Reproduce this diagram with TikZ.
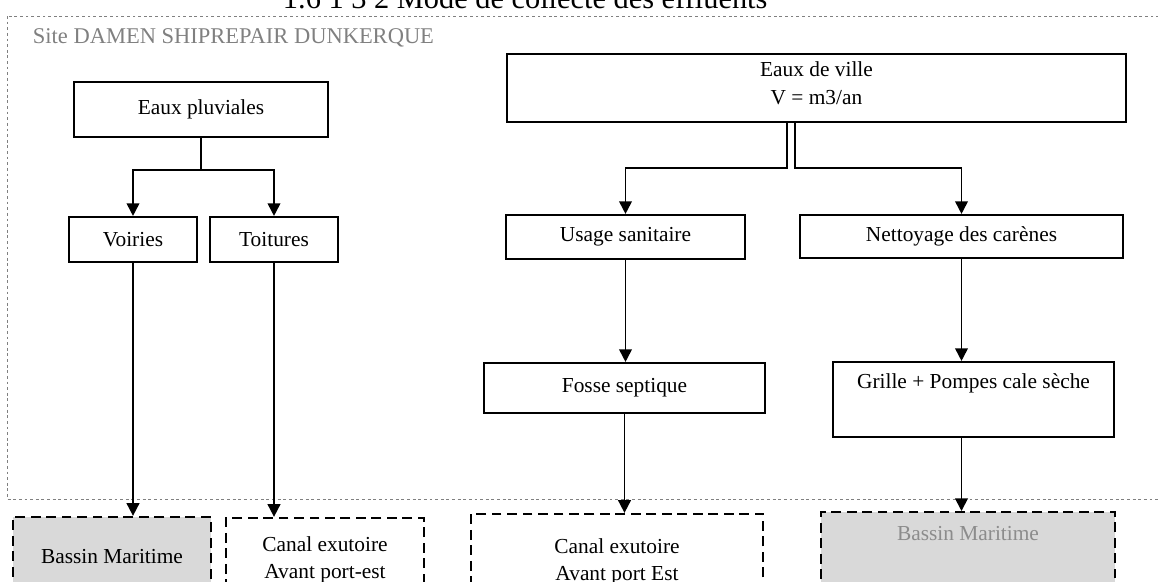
\documentclass[tikz,border=0pt]{standalone}
\usepackage{fontspec}
\setmainfont{Liberation Serif}
\usetikzlibrary{arrows.meta}

\begin{document}
\begin{tikzpicture}[x=0.025cm,y=-0.025cm,
	boite/.style={draw,line width=1.5pt,align=center,inner sep=0pt,font=\fontsize{15.2}{20}\selectfont},
	sortie/.style={draw,line width=1.6pt,dash pattern=on 7pt off 4pt,inner sep=0pt,font=\fontsize{15.2}{19}\selectfont},
	fleche/.style={-{Triangle[length=9pt,width=9pt]},line width=1.3pt}]
	\useasboundingbox (0,0) rectangle (1158,581);

		%titre et cadre du site
		\node (titre) at(278,8) [anchor=base west,font=\fontsize{21.6}{26}\selectfont] {1.6 1 3 2 Mode de collecte des effluents} ;
		\draw[gray,line width=0.6pt,dash pattern=on 2pt off 2pt] (7,16) rectangle (1180,499);
		\node (site) at(28,38) [anchor=west,text=gray,font=\fontsize{16}{19}\selectfont] {Site DAMEN SHIPREPAIR DUNKERQUE} ;

		%\node (nom node) at(x,y) [boite, largeur, hauteur] {texte} ;
		\node (node pluviales) at(201,109.5) [boite,minimum width=6.35cm,minimum height=1.375cm] {Eaux pluviales} ;
		\node (node voiries) at(133,239.5) [boite,minimum width=3.2cm,minimum height=1.125cm] {Voiries} ;
		\node (node toitures) at(274,239.5) [boite,minimum width=3.2cm,minimum height=1.125cm] {Toitures} ;
		\node (node ville) at(816.5,88) [boite,minimum width=15.475cm,minimum height=1.7cm] {Eaux de ville\\V = m3/an\\[-13pt]} ;
		\node (node usage) at(625.5,237) [boite,minimum width=5.975cm,minimum height=1.1cm] {Usage sanitaire} ;
		\node (node nettoyage) at(961.5,236.5) [boite,minimum width=8.075cm,minimum height=1.075cm] {Nettoyage des carènes} ;
		\node (node fosse) at(624.5,388) [boite,minimum width=7.025cm,minimum height=1.25cm] {Fosse septique} ;
		\node (node grille) at(973.5,399.5) [boite,minimum width=7.025cm,minimum height=1.875cm] {Grille + Pompes cale sèche\\\strut} ;

		%exutoires (en pointillés, coupés en bas de page)
		\node (node bassin1) at(112,557) [sortie,fill=black!15,minimum width=4.95cm,minimum height=2cm] {Bassin Maritime} ;
		\node (node canal1) at(325,560) [sortie,align=center,minimum width=4.95cm,minimum height=2.1cm] {Canal exutoire\\Avant port-est} ;
		\node (node canal2) at(617,562) [sortie,align=center,minimum width=7.3cm,minimum height=2.4cm] {Canal exutoire\\Avant port Est} ;
		\node (node bassin2) at(968,511) [sortie,anchor=north,fill=black!15,text=black!45,minimum width=7.35cm,text height=0.7cm,text depth=2.5cm] {Bassin Maritime} ;

		%points de jonction
		\coordinate (jonction pluv) at(201,170);
		\coordinate (jonction a) at(787,168);
		\coordinate (jonction b) at(795,168);

		\draw[fleche] (node pluviales) -- (jonction pluv) -| (node voiries);
		\draw[fleche] (jonction pluv) -| (node toitures);
		\draw[fleche] (node ville.south -| jonction a) -- (jonction a) -| (node usage);
		\draw[fleche] (node ville.south -| jonction b) -- (jonction b) -| (node nettoyage);

		%\path (nom node A) edge[fleche] (nom node B);
		\path
		(node voiries) edge[fleche] (node voiries |- node bassin1.north)
		(node toitures) edge[fleche] (node toitures |- node canal1.north)
		(node usage) edge[fleche] (node usage |- node fosse.north)
		(node fosse) edge[fleche] (node fosse |- node canal2.north)
		(node nettoyage) edge[fleche] (node nettoyage |- node grille.north)
		(node grille.south -| node nettoyage) edge[fleche] (node nettoyage |- node bassin2.north)
		;
\end{tikzpicture}
\end{document}
